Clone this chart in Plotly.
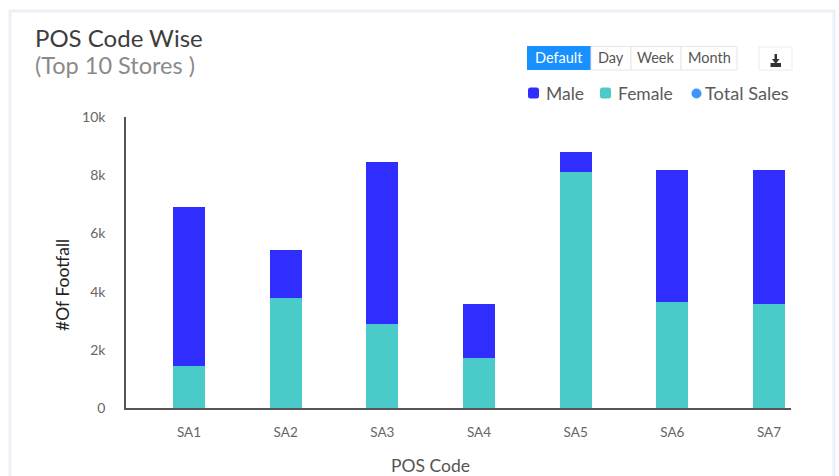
import plotly.graph_objects as go

categories = ["SA1", "SA2", "SA3", "SA4", "SA5", "SA6", "SA7"]
female = [1443, 3780, 2887, 1718, 8110, 3643, 3574]
male = [5464, 1650, 5567, 1856, 687, 4536, 4605]
y_ticks = [0, 2000, 4000, 6000, 8000, 10000]
y_labels = ["0", "2k", "4k", "6k", "8k", "10k"]
title_main = "POS Code Wise"
title_sub = "(Top 10 Stores )"
buttons = ["Default", "Day", "Week", "Month"]
legend_items = ["Male", "Female", "Total Sales"]
x_title = "POS Code"
y_title = "#Of Footfall"

W, H = 839, 476
L, R, T, B = 126, 791, 117, 408
FONT = "Lato"
px = lambda x: (x - L) / (R - L)
py = lambda y: (B - y) / (B - T)

fig = go.Figure()
fig.add_bar(x=categories, y=female, name="Female", marker_color="#4ACBC9", marker_line_width=0, width=0.331)
fig.add_bar(x=categories, y=male, name="Male", marker_color="#302EFF", marker_line_width=0, width=0.331)

shapes = []
ann = []


def text(x, y, s, size, color, anchor="left", **kw):
    ann.append(dict(x=px(x), y=py(y), xref="paper", yref="paper", text=s, showarrow=False,
                    xanchor=anchor, yanchor="middle", borderpad=0,
                    font=dict(family=FONT, size=size, color=color), **kw))


def rect(x0, y0, x1, y1, **kw):
    shapes.append(dict(type="rect", xref="paper", yref="paper", x0=px(x0), x1=px(x1), y0=py(y0), y1=py(y1), **kw))


def round_rect(x0, y0, x1, y1, r, color):
    p = (f"M {px(x0 + r)} {py(y0)} L {px(x1 - r)} {py(y0)} Q {px(x1)} {py(y0)} {px(x1)} {py(y0 + r)} "
         f"L {px(x1)} {py(y1 - r)} Q {px(x1)} {py(y1)} {px(x1 - r)} {py(y1)} "
         f"L {px(x0 + r)} {py(y1)} Q {px(x0)} {py(y1)} {px(x0)} {py(y1 - r)} "
         f"L {px(x0)} {py(y0 + r)} Q {px(x0)} {py(y0)} {px(x0 + r)} {py(y0)} Z")
    shapes.append(dict(type="path", xref="paper", yref="paper", path=p, fillcolor=color, line=dict(width=0)))


# card border
rect(10, 11, 834, 500, line=dict(color="#EDEFF8", width=3), fillcolor="rgba(0,0,0,0)", layer="below")

text(34, 37, title_main, 24, "#3D3D3D")
text(34, 65.5, title_sub, 23.5, "#8A8A8A")

# button group
rect(527, 46, 591, 70, fillcolor="#1890FF", line=dict(width=0))
for x0, x1 in [(591, 631), (631, 681), (681, 737)]:
    rect(x0, 46.5, x1, 70, fillcolor="#FFFFFF", line=dict(color="#E6E6E6", width=1))
for cx, s, c in zip([559, 611, 656, 709], buttons, ["#FFFFFF", "#555555", "#555555", "#555555"]):
    text(cx, 57.5, s, 14.5, c, anchor="center")

# download button
rect(759, 47, 792, 70, fillcolor="#FFFFFF", line=dict(color="#EBEBEB", width=1))
rect(770.5, 63, 781, 67, fillcolor="#333333", line=dict(width=0))
rect(774.5, 54, 777, 60, fillcolor="#333333", line=dict(width=0))
shapes.append(dict(type="path", xref="paper", yref="paper", fillcolor="#333333", line=dict(width=0),
                   path=f"M {px(772)} {py(59)} L {px(779.5)} {py(59)} L {px(775.75)} {py(64)} Z"))

# legend
round_rect(528, 87.5, 539, 98.5, 2.5, "#302EFF")
round_rect(600, 87.5, 611, 98.5, 2.5, "#4ACBC9")
shapes.append(dict(type="circle", xref="paper", yref="paper", fillcolor="#3F96FF", line=dict(width=0),
                   x0=px(691.5), x1=px(701.5), y0=py(88.5), y1=py(98.5)))
for x, s, size in zip([545, 617, 704], legend_items, [17.5, 17.5, 18.2]):
    text(x, 93, s, size, "#5A5A5A")

# axis titles
text(430, 465, x_title, 17.5, "#555555", anchor="center")
text(62, 285, y_title, 17.5, "#222222", anchor="center", textangle=-90)

fig.update_layout(
    width=W, height=H, margin=dict(l=L, r=W - R, t=T, b=H - B, pad=0),
    paper_bgcolor="#FFFFFF", plot_bgcolor="#FFFFFF", barmode="stack", showlegend=False,
    shapes=shapes, annotations=ann, font=dict(family=FONT),
    xaxis=dict(range=[-0.652, 6.228], showgrid=False, showline=True, linecolor="#555555", linewidth=1.5,
               ticks="", tickfont=dict(size=13.5, color="#666666"), ticklabelstandoff=11, automargin=False),
    yaxis=dict(range=[0, 10000], tickvals=y_ticks, ticktext=y_labels, showgrid=False, zeroline=False,
               showline=True, linecolor="#555555", linewidth=1.5, ticks="",
               tickfont=dict(size=14, color="#666666"), ticklabelstandoff=16, automargin=False),
)
fig.write_html("out.html", config=dict(displayModeBar=False),
               post_script="document.body.style.margin='0';document.body.style.overflow='hidden';")
